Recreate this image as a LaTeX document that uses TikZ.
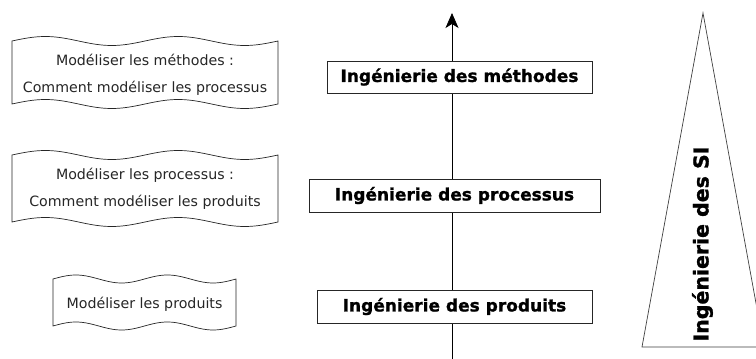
\documentclass[tikz,border=0pt]{standalone}
\usepackage{fontspec}
\setmainfont{DejaVu Sans}
\newfontfamily\grasfont{DejaVu Sans Bold}[FakeBold=1.2]
\usetikzlibrary{arrows.meta}

% bord ondule (deux periodes) autour d'un texte
\newcommand{\vague}[5]{%
  \draw[fill=white,line width=.7pt,draw=black!85]
    plot[domain=#1:#2,samples=80] (\x,{#3+#5*sin((\x-#1)/(#2-#1)*720)})
    -- plot[domain=#2:#1,samples=80] (\x,{#4+#5*sin((\x-#1)/(#2-#1)*720)})
    -- cycle;}

\tikzset{
  ingbox/.style={draw=black!85,fill=white,line width=.7pt,minimum height=32pt,
    inner sep=0pt,font=\fontsize{17}{20}\selectfont\grasfont},
  modtxt/.style={font=\fontsize{14.2}{27}\selectfont,align=center,text=black!85},
  fleche/.style={-{Stealth[length=15pt,width=13pt,inset=4pt]},line width=.8pt}
}

\begin{document}
\begin{tikzpicture}[x=1pt,y=1pt]
  \clip (0,0) rectangle (756,359);
  \fill[white] (0,0) rectangle (756,359);

  % axe vertical
  \coordinate (bas) at (452,-2);
  \coordinate (haut) at (452,346);
  \draw[fleche] (bas) -- (haut);

  % niveaux d'ingenierie
  \node[ingbox,minimum width=265pt] (ingMeth) at (459.5,282) {Ingénierie des méthodes};
  \node[ingbox,minimum width=291pt,minimum height=33pt] (ingProc) at (454.5,163.5) {Ingénierie des processus};
  \node[ingbox,minimum width=275pt,minimum height=33pt] (ingProd) at (454.5,52.5) {Ingénierie des produits};

  % bandes a gauche
  \vague{12}{278}{318}{255}{4.5}
  \node[modtxt] (txtMeth) at (145,284.5) {Modéliser les méthodes :\\Comment modéliser les processus};
  \vague{12}{278}{204}{137}{4.5}
  \node[modtxt] (txtProc) at (145,170) {Modéliser les processus :\\Comment modéliser les produits};
  \vague{53}{236}{80}{33}{4}
  \node[modtxt] (txtProd) at (144.5,55) {Modéliser les produits};

  % triangle
  \draw[black!75,line width=.7pt] (703,346) -- (642,12) -- (764,12) -- cycle;
  \node[rotate=90,font=\fontsize{20.5}{24}\selectfont\grasfont] (ingSI) at (702.5,115) {Ingénierie des SI};
\end{tikzpicture}
\end{document}
